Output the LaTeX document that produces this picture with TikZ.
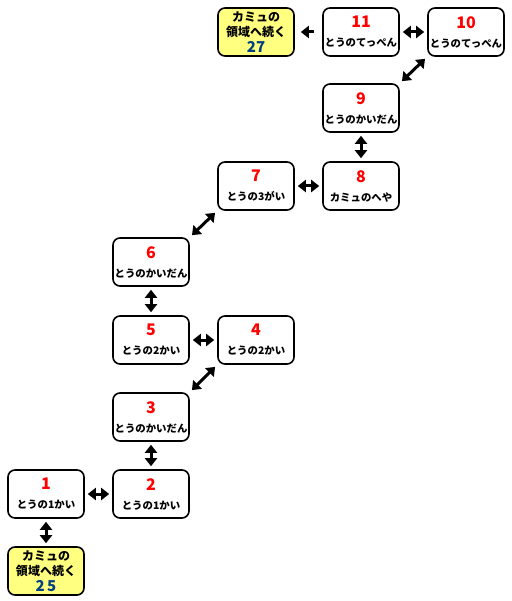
\documentclass[tikz,border=0pt]{standalone}
\usepackage{fontspec}
\newfontfamily\jpfont{Noto Sans CJK JP}
\usetikzlibrary{arrows.meta,positioning}
\definecolor{exityellow}{RGB}{255,255,128}
\definecolor{exitblue}{RGB}{0,64,128}
\newcommand{\roomno}[1]{{\color{red}\fontsize{16}{16}\selectfont #1}}
\newcommand{\exitno}[1]{{\color{exitblue}\fontsize{15}{15}\selectfont #1}}

\begin{document}
\begin{tikzpicture}[
				x=1pt,y=-1pt,
				every node/.style={on grid},
				node distance=77pt and 105pt,
				room/.style={draw,line width=1.6pt,rounded corners=7pt,fill=white,
					minimum width=76pt,minimum height=48pt,inner sep=0pt,align=center,
					font=\jpfont\bfseries\fontsize{10.4}{19}\selectfont},
				exit/.style={room,fill=exityellow,
					font=\jpfont\bfseries\fontsize{12}{15.5}\selectfont},
				link/.style={<->,line width=3pt,shorten >=3pt,shorten <=3pt},
				>={Triangle[length=8pt,width=12pt]}
				]
				\useasboundingbox (0,0) rectangle (511,601);
				
				% bottom rows
				\node[room] (r1) at (46,494) {\roomno{1}\\とうの1かい};
				\node[exit,below = of r1] (e25) {カミュの\\領域へ続く\\\exitno{2\,5}};
				\node[room,right = of r1] (r2) {\roomno{2}\\とうの1かい};
				\node[room,above = of r2] (r3) {\roomno{3}\\とうのかいだん};
				\node[room,above = of r3] (r5) {\roomno{5}\\とうの2かい};
				\node[room,right = of r5] (r4) {\roomno{4}\\とうの2かい};
				
				% middle rows
				\node[room,above = 78pt of r5] (r6) {\roomno{6}\\とうのかいだん};
				\node[room,above right = 76pt and 105pt of r6] (r7) {\roomno{7}\\とうの3がい};
				\node[room,right = of r7] (r8) {\roomno{8}\\カミュのへや};
				\node[room,above = 78pt of r8] (r9) {\roomno{9}\\とうのかいだん};
				
				% top row
				\node[room,above right = 76pt and 105pt of r9] (r10) {\roomno{10}\\とうのてっぺん};
				\node[room,left = of r10] (r11) {\roomno{11}\\とうのてっぺん};
				\node[exit,left = of r11] (e27) {カミュの\\領域へ続く\\\exitno{27}};
				
				% the arrows
				\draw[link] (r1) -- (e25);
				\draw[link] (r1) -- (r2);
				\draw[link] (r2) -- (r3);
				\draw[link] (r3.north east) -- (r4.south west);
				\draw[link] (r4) -- (r5);
				\draw[link] (r5) -- (r6);
				\draw[link] (r6.north east) -- (r7.south west);
				\draw[link] (r7) -- (r8);
				\draw[link] (r8) -- (r9);
				\draw[link] (r9.north east) -- (r10.south west);
				\draw[link] (r10) -- (r11);
				\draw[->,line width=3pt,shorten <=8pt,shorten >=6pt] (r11) -- (e27);
			\end{tikzpicture}
\end{document}
